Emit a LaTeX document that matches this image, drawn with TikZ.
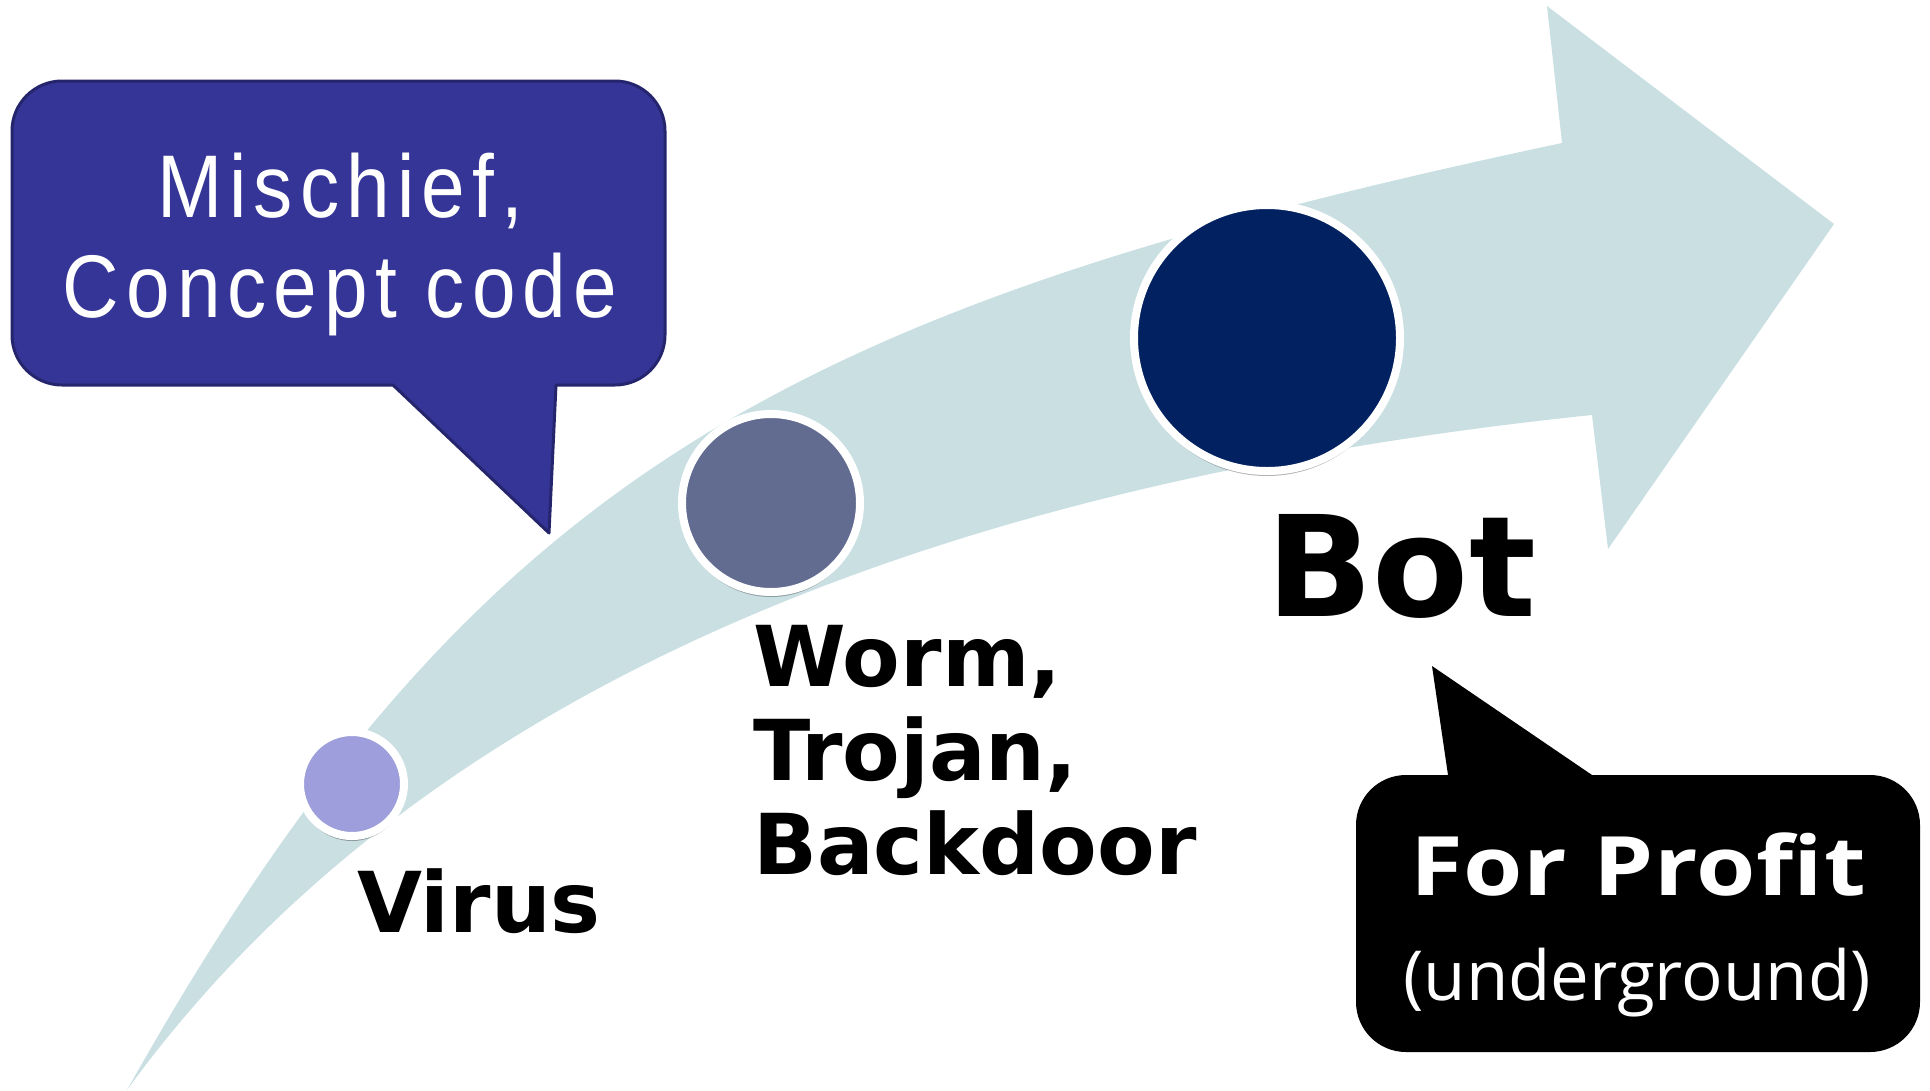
\documentclass[tikz,border=0pt]{standalone}
\usepackage{fontspec}
\usetikzlibrary{shadows}
\newfontfamily\stagefont{DejaVu Sans}
\newfontfamily\bubblefont{Liberation Sans}[FakeStretch=0.88, LetterSpace=8]
\newfontfamily\profitfont{Open Sans}
\definecolor{bandfill}{RGB}{201,223,226}
\definecolor{virusfill}{RGB}{158,158,221}
\definecolor{wormfill}{RGB}{98,107,144}
\definecolor{botfill}{RGB}{2,33,96}
\definecolor{mischieffill}{RGB}{53,53,151}
\definecolor{mischiefline}{RGB}{37,37,110}
\tikzset{
  ring/.style={circle, draw=white, line width=8pt, inner sep=0pt,
    drop shadow={shadow xshift=0pt, shadow yshift=-5pt, opacity=0.3, fill=black}},
  stagetext/.style={font=\stagefont\bfseries\fontsize{84}{94}\selectfont,
    inner sep=0pt, align=left, anchor=base west, text=black},
  bubbletext/.style={font=\bubblefont\fontsize{89}{100}\selectfont,
    inner sep=0pt, align=center, text=white},
}
\begin{document}
\begin{tikzpicture}[x=1pt,y=-1pt]
\useasboundingbox (0,0) rectangle (1930,1090);

% curved progress arrow
\fill[bandfill]
  (127,1090) .. controls (470,480) and (780,309) .. (1562,143)
  -- (1547,6) -- (1834,224) -- (1608,549) -- (1592,415)
  .. controls (889,488) and (401,713) .. (127,1090)
  -- cycle;

% speech bubble, upper left
\filldraw[fill=mischieffill, draw=mischiefline, line width=3pt, line join=round]
  (12,131) .. controls (12,103.4) and (34.4,81) .. (62,81)
  -- (615,81) .. controls (642.6,81) and (665,103.4) .. (665,131)
  -- (665,335) .. controls (665,362.6) and (642.6,385) .. (615,385)
  -- (556,385) -- (549,533) -- (393,385)
  -- (62,385) .. controls (34.4,385) and (12,362.6) .. (12,335)
  -- cycle;
\node[bubbletext] (mischief) at (340,244) {Mischief,\\Concept code};

% speech bubble, lower right
\fill[black]
  (1356,825) .. controls (1356,797.4) and (1378.4,775) .. (1406,775)
  -- (1448,775) -- (1432,666) -- (1592,775)
  -- (1870,775) .. controls (1897.6,775) and (1920,797.4) .. (1920,825)
  -- (1920,1002) .. controls (1920,1029.6) and (1897.6,1052) .. (1870,1052)
  -- (1406,1052) .. controls (1378.4,1052) and (1356,1029.6) .. (1356,1002)
  -- cycle;
\node[font=\profitfont\bfseries\fontsize{82}{90}\selectfont\addfontfeature{FakeStretch=1.17, LetterSpace=1},
  text=white, inner sep=0pt, anchor=base] (profit) at (1638,895) {For Profit};
\node[font=\profitfont\fontsize{69}{78}\selectfont, text=white,
  inner sep=0pt, anchor=base] (underground) at (1637,1000) {(underground)};

% stage markers
\node[ring, fill=virusfill, minimum size=104pt] (viruscircle) at (352,784) {};
\node[ring, fill=wormfill, minimum size=178pt] (wormcircle) at (771,503) {};
\node[ring, fill=botfill, minimum size=266pt] (botcircle) at (1267,338) {};

% stage names
\node[stagetext] (virus) at (357,932) {Virus};
\node[stagetext] (worm) at (753,874) {Worm,\\Trojan,\\Backdoor};
\node[stagetext, font=\stagefont\bfseries\fontsize{140}{150}\selectfont] (bot) at (1266,616) {Bot};
\end{tikzpicture}
\end{document}
